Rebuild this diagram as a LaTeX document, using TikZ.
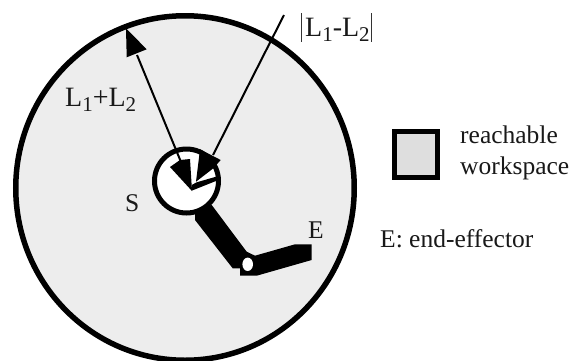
\documentclass[tikz,border=0pt]{standalone}
\usepackage{fontspec}
\setmainfont{Liberation Serif}
\newcommand{\lsub}[1]{\raisebox{-5pt}{\fontsize{21}{21}\selectfont #1}}
\tikzset{lab/.style={inner sep=0pt,font=\fontsize{28}{32}\selectfont,text=black!90},
small/.style={inner sep=0pt,font=\fontsize{25.5}{31}\selectfont,text=black!90,align=left}}
\begin{document}
\begin{tikzpicture}[x=1pt,y=-1pt]
\useasboundingbox (0,0) rectangle (571,360);
\fill[white] (0,0) rectangle (571,360);
\begin{scope}
\clip (0,0) rectangle (571,360);
\draw[line width=5.5pt,fill=black!7] (185,188) ellipse (169.25 and 172.25);
\end{scope}
% arms
\fill (195,213) -- (211.7,205) -- (246.7,251.7) -- (255,255.7) -- (295,244.3) -- (311.7,244.3) -- (311.7,260) -- (256.7,275.7) -- (240,275.7) -- (240,268.3) -- (232.7,268.3) -- (195,220) -- cycle;
\fill[white] (247.7,264.3) ellipse (5.3 and 6.7);
\draw[line width=5pt,fill=white] (186.5,181) circle (32);
% pointers
\coordinate (tipA) at (126,28.3);
\coordinate (hubA) at (181,162);
\coordinate (neckA) at (137,55);
\coordinate (tipB) at (284,15);
\coordinate (hubB) at (213,155);
\draw[line width=2pt] (hubA) -- (neckA);
\fill (tipA) -- (126.7,57.3) -- (146.7,49.3) -- cycle;
\draw[line width=2pt] (hubB) -- (tipB);
\fill (192,191) -- (170,167) -- (180,160) -- (190,159) -- cycle;
\fill (200,149.3) -- (220.7,160) -- (213.3,168.3) -- (196,181.7) -- (198.3,163.3) -- cycle;
\fill (191.7,190.7) -- (216.7,180.7) -- (216,176.7) -- (196.7,182.3) -- (191.7,185) -- cycle;
% labels
\node[lab,anchor=base west] (a) at (65,106) {L\lsub{1}+L\lsub{2}};
\node[lab,anchor=base west] (b) at (305,36) {L\lsub{1}-L\lsub{2}};
\coordinate (barAt) at (301,13);
\coordinate (barAb) at (301,42);
\coordinate (barBt) at (371,13);
\coordinate (barBb) at (371,42);
\draw[line width=.6pt,black!80] (barAt) -- (barAb) (barBt) -- (barBb);
\node[small,anchor=base west] (s) at (125,211) {S};
\node[small,anchor=base west] (e) at (308,238) {E};
\node[small,anchor=base west] (w1) at (460,143) {reachable};
\node[small,anchor=base west] (w2) at (460,174) {workspace};
\node[small,anchor=base west] (f) at (380,247) {E: end-effector};
\draw[line width=5pt,fill=black!13] (394.5,131.5) rectangle (437.5,177.5);
\end{tikzpicture}
\end{document}
